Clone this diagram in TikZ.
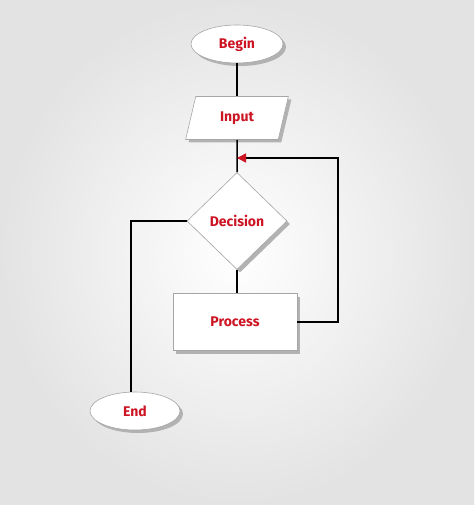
\documentclass[tikz,border=0pt]{standalone}
\usepackage{fontspec}
\setsansfont{Fira Sans}
\usetikzlibrary{shapes.geometric,shadows,arrows.meta}
\definecolor{txt}{RGB}{205,20,35}
\begin{document}
\begin{tikzpicture}[x=1pt,y=-1pt,
  box/.style={draw=gray!70,fill=white,line width=0.6pt,drop shadow={shadow xshift=3pt,shadow yshift=-3pt,fill=gray!60,opacity=1},
    font=\sffamily\bfseries\fontsize{14}{16}\selectfont,text=txt,inner sep=0pt},
  conn/.style={line width=1.5pt,black}]
\shade[inner color=white,outer color=gray!22] (0,0) rectangle (474,505);
\useasboundingbox (0,0) rectangle (474,505);
\node[box,ellipse,minimum width=92pt,minimum height=38pt] (begin) at (237,44) {Begin};
\node[box,trapezium,trapezium left angle=72,trapezium right angle=108,trapezium stretches=true,minimum width=103pt,minimum height=43pt] (input) at (237,118) {Input};
\node[box,diamond,minimum width=100pt,minimum height=97pt] (dec) at (237,221) {Decision};
\node[box,rectangle,minimum width=124pt,minimum height=57pt] (proc) at (235,322) {Process};
\node[box,ellipse,minimum width=90pt,minimum height=38pt] (end) at (135,411) {End};
\coordinate (m) at (237,158);
\coordinate (r) at (338,158);
\coordinate (l) at (131,221);
\draw[conn] (begin) -- (input);
\draw[conn] (input) -- (dec.north);
\draw[conn] (dec.south) -- (237,293);
\draw[conn] (dec.west) -- (l) -- (end.north -| l);
\draw[conn,-{Triangle[length=9pt,width=9pt,color=txt]}] (proc.east) -| (r) -- (m);
\end{tikzpicture}
\end{document}
